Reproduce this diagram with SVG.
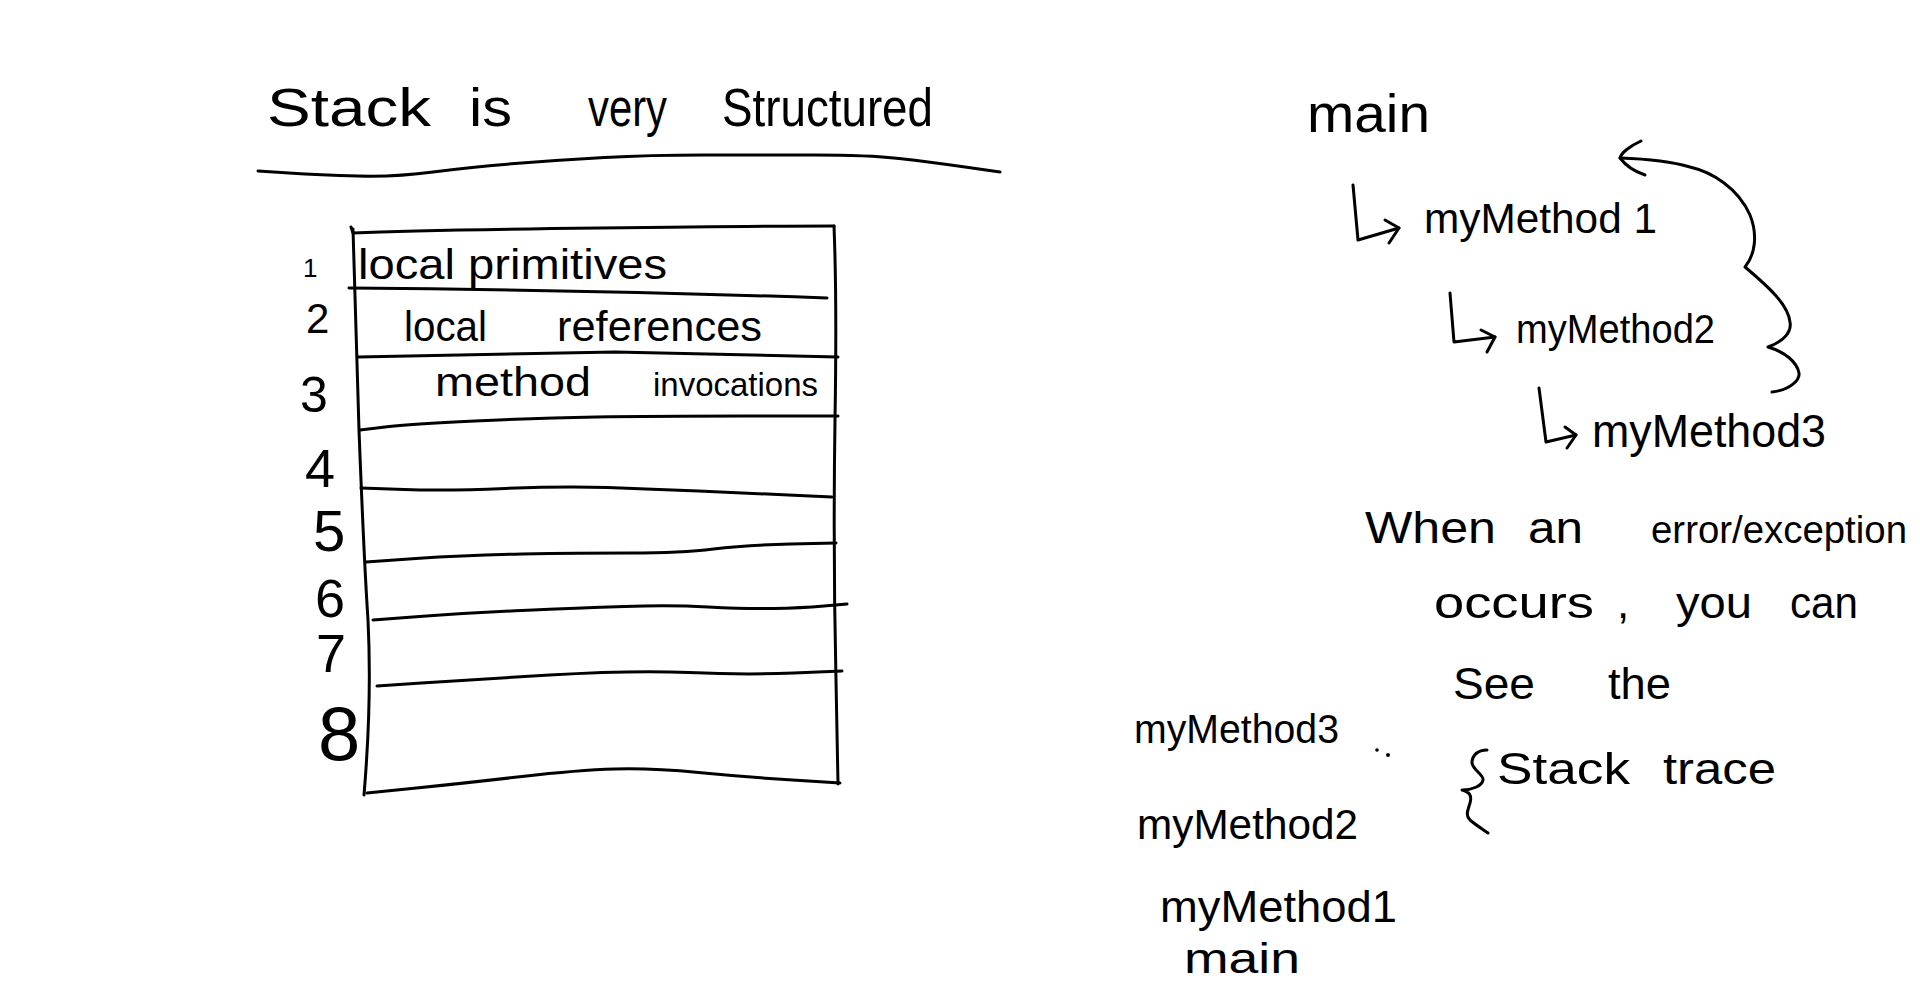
<svg xmlns="http://www.w3.org/2000/svg" width="1920" height="986" viewBox="0 0 1920 986">
<defs>
<style>
.ink{fill:none;stroke:#000;stroke-width:3;stroke-linecap:round;stroke-linejoin:round}
.t{font-family:"Liberation Sans",Arial,sans-serif;fill:#000}
</style>
</defs>
<rect width="1920" height="986" fill="#fff"/>

<g id="title">
<text class="t" y="126" font-size="54"><tspan x="267" textLength="164" lengthAdjust="spacingAndGlyphs">Stack</tspan><tspan x="469" textLength="43" lengthAdjust="spacingAndGlyphs">is</tspan><tspan x="588" textLength="79" lengthAdjust="spacingAndGlyphs">very</tspan><tspan x="722" textLength="211" lengthAdjust="spacingAndGlyphs">Structured</tspan></text>
<path class="ink" d="M258,171 L289,173 Q320,175 358,176 Q396,177 433,172 Q470,167 515,163.5 Q560,160 604.5,157.5 Q649,155 704.5,155 Q760,155 814,155 Q868,155 899,158.5 Q930,162 965,167 L1000,172"/>
</g>

<g id="stack-table">
<path class="ink" d="M351,227 L353,233 Q420,230 600,228 Q760,226 834,226"/>
<path class="ink" d="M353,229 Q355,300 359,430 Q364,560 368,620 Q372,700 364,795"/>
<path class="ink" d="M834,226 Q837,300 835,420 Q833,551 836,680 L838,784"/>
<path class="ink" d="M349,288 Q600,290 827,298"/>
<path class="ink" d="M358,357 Q481,355 615,352 Q720,354 838,357"/>
<path class="ink" d="M360,430 L385,427 Q410,424 475,421 Q540,418 596,417 Q652,416 745,416 L838,416"/>
<path class="ink" d="M361,488 L404,489.5 Q447,491 505,488.5 Q563,486 607.5,487.5 Q652,489 698.5,491 Q745,493 788.5,495 L832,497"/>
<path class="ink" d="M366,562 L416,558.5 Q466,555 522,554 Q578,553 630,553 Q682,553 713.5,549 Q745,545 790.5,544 L836,543"/>
<path class="ink" d="M373,620 L419.5,616.5 Q466,613 522,610.5 Q578,608 624.5,606.5 Q671,605 708,607 Q745,609 773,608.5 Q801,608 824,606 L847,604"/>
<path class="ink" d="M377,686 L421.5,683 Q466,680 549.5,675 Q633,670 689,672.5 Q745,675 793.5,673 L842,671"/>
<path class="ink" d="M367,793 L416.5,788 Q466,783 522,776.5 Q578,770 615,769 Q652,768 698.5,772.5 Q745,777 792.5,780 L840,783"/>
</g>

<g id="row-labels">
<text class="t" x="303" y="277" font-size="26">1</text>
<text class="t" x="306" y="333" font-size="42">2</text>
<text class="t" x="300" y="412" font-size="50">3</text>
<text class="t" x="305" y="487" font-size="54">4</text>
<text class="t" x="313" y="551" font-size="58">5</text>
<text class="t" x="315" y="617" font-size="54">6</text>
<text class="t" x="316" y="672" font-size="54">7</text>
<text class="t" x="318" y="760" font-size="76">8</text>
</g>

<g id="row-contents">
<text class="t" x="358" y="279" font-size="42" textLength="309" lengthAdjust="spacingAndGlyphs">local primitives</text>
<text class="t" y="341" font-size="42"><tspan x="404" textLength="83" lengthAdjust="spacingAndGlyphs">local</tspan><tspan x="557" textLength="205" lengthAdjust="spacingAndGlyphs">references</tspan></text>
<text class="t" y="396" font-size="40"><tspan x="435" textLength="156" lengthAdjust="spacingAndGlyphs">method</tspan><tspan x="653" font-size="34" textLength="165" lengthAdjust="spacingAndGlyphs">invocations</tspan></text>
</g>

<g id="node-main">
<text class="t" x="1307" y="132" font-size="54" textLength="123" lengthAdjust="spacingAndGlyphs">main</text>
</g>
<g id="node-myMethod1">
<text class="t" x="1424" y="233" font-size="42" textLength="233" lengthAdjust="spacingAndGlyphs">myMethod 1</text>
</g>
<g id="node-myMethod2">
<text class="t" x="1516" y="343" font-size="40" textLength="199" lengthAdjust="spacingAndGlyphs">myMethod2</text>
</g>
<g id="node-myMethod3">
<text class="t" x="1592" y="447" font-size="46" textLength="234" lengthAdjust="spacingAndGlyphs">myMethod3</text>
</g>

<g id="connectors">
<polyline class="ink" points="1353,185 1358,240 1399,228"/>
<polyline class="ink" points="1385,220 1399,228 1389,243"/>
<polyline class="ink" points="1450,293 1454,342 1495,337"/>
<polyline class="ink" points="1481,330 1495,337 1487,352"/>
<polyline class="ink" points="1539,388 1546,442 1576,435"/>
<polyline class="ink" points="1565,427 1576,435 1567,448"/>
<path class="ink" d="M1772,392 C1790,390 1800,380 1799,373 C1797,362 1785,352 1768,347 C1782,342 1792,333 1790,322 C1788,305 1770,288 1745,267 C1755,255 1758,235 1750,215 C1738,188 1712,172 1690,167 C1670,161 1650,159 1620,158"/>
<path class="ink" d="M1641,141 C1630,146 1621,153 1620,158 C1626,166 1636,172 1645,175"/>
</g>

<g id="note">
<text class="t" y="543" font-size="44"><tspan x="1365" textLength="131" lengthAdjust="spacingAndGlyphs">When</tspan><tspan x="1528" textLength="55" lengthAdjust="spacingAndGlyphs">an</tspan><tspan x="1651" font-size="38" textLength="256" lengthAdjust="spacingAndGlyphs">error/exception</tspan></text>
<text class="t" y="618" font-size="44"><tspan x="1434" textLength="160" lengthAdjust="spacingAndGlyphs">occurs</tspan><tspan x="1617">,</tspan><tspan x="1676" textLength="76" lengthAdjust="spacingAndGlyphs">you</tspan><tspan x="1790" textLength="68" lengthAdjust="spacingAndGlyphs">can</tspan></text>
<text class="t" y="699" font-size="44"><tspan x="1453" textLength="82" lengthAdjust="spacingAndGlyphs">See</tspan><tspan x="1608" textLength="63" lengthAdjust="spacingAndGlyphs">the</tspan></text>
<text class="t" y="784" font-size="44"><tspan x="1497" textLength="133" lengthAdjust="spacingAndGlyphs">Stack</tspan><tspan x="1663" textLength="113" lengthAdjust="spacingAndGlyphs">trace</tspan></text>
<path class="ink" d="M1487,750 C1478,750 1472,755 1472,763 C1473,770 1484,775 1483,780 C1482,786 1472,790 1462,790 C1470,792 1472,796 1470,803 C1468,810 1465,815 1470,820 C1477,826 1484,830 1488,833"/>
</g>

<g id="stack-trace">
<text class="t" x="1134" y="743" font-size="40" textLength="205" lengthAdjust="spacingAndGlyphs">myMethod3</text>
<circle cx="1377" cy="750" r="1.8" fill="#000"/>
<circle cx="1388" cy="755" r="2" fill="#000"/>
<text class="t" x="1137" y="839" font-size="42" textLength="221" lengthAdjust="spacingAndGlyphs">myMethod2</text>
<text class="t" x="1160" y="922" font-size="44" textLength="237" lengthAdjust="spacingAndGlyphs">myMethod1</text>
<text class="t" x="1184" y="973" font-size="42" textLength="116" lengthAdjust="spacingAndGlyphs">main</text>
</g>
</svg>
